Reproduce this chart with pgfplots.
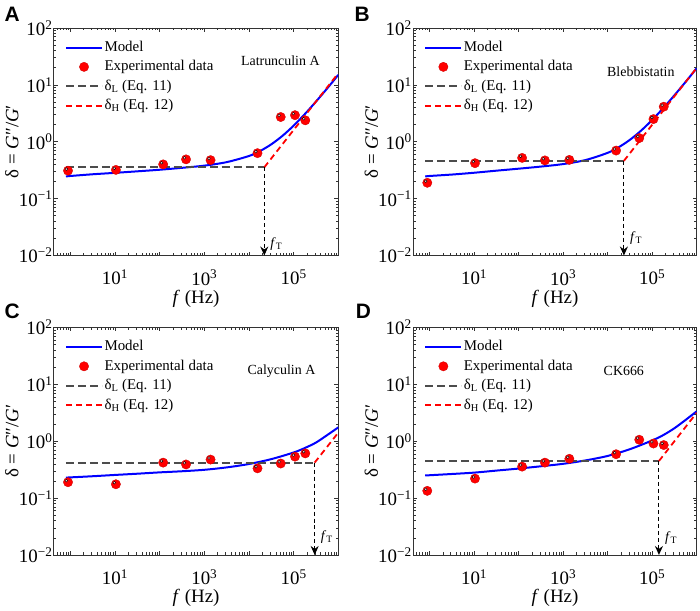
\documentclass[border=0pt]{standalone}
\usepackage{fontspec}
\setmainfont{Liberation Serif}
\newfontfamily\sansf{Liberation Sans}
\usepackage{pgfplots}
\pgfplotsset{compat=1.18}
\usetikzlibrary{arrows.meta}
\pgfplotsset{legend image code/.code={\draw[mark repeat=2,mark phase=2,#1] plot coordinates {(0bp,0bp) (18bp,0bp) (36bp,0bp)};}}

\newcommand{\mylegend}{%
  \addlegendimage{blue, line width=2bp}\addlegendentry{Model}
  \addlegendimage{only marks, mark=*, mark size=4.7bp, mark options={fill=red, draw=red!80!black, line width=0.3bp}}\addlegendentry{Experimental data}
  \addlegendimage{black!70, line width=1.8bp, dash pattern=on 8bp off 4bp}\addlegendentry{δ\textsubscript{L} (Eq. 11)}
  \addlegendimage{red, line width=1.8bp, dash pattern=on 6bp off 4bp}\addlegendentry{δ\textsubscript{H} (Eq. 12)}
}
\newcommand{\annot}[3]{\node[font=\fontsize{14}{17}\selectfont] at (axis description cs:#1,#2) {#3};}
\newcommand{\plabel}[3]{\node[font=\sansf\bfseries\fontsize{21}{24}\selectfont] at (axis description cs:#1,#2) {#3};}
\newcommand{\fT}[2]{\node[anchor=west, font=\fontsize{14}{17}\selectfont, inner sep=0pt, xshift=6bp] at (axis cs:#1,#2) {\textit{f}\textsubscript{T}};}

\begin{document}
\begin{tikzpicture}

% ---------------- A
\begin{axis}[width=285bp, at={(54bp,-256bp)}, anchor=south west, clip mode=individual,
    xmode=log, ymode=log, scale only axis, height=228bp,
    xmin=0.43, xmax=1e6, ymin=0.01, ymax=100,
    xtick={1,10,100,1000,10000,100000,1000000},
    xticklabels={{},{10\textsuperscript{1}},{},{10\textsuperscript{3}},{},{10\textsuperscript{5}},{}},
    ytick={0.01,0.1,1,10,100},
    yticklabels={{10\textsuperscript{−2}},{10\textsuperscript{−1}},{10\textsuperscript{0}},{10\textsuperscript{1}},{10\textsuperscript{2}}},
    minor xtick={0.5,0.6,0.7,0.8,0.9,2,3,4,5,6,7,8,9,20,30,40,50,60,70,80,90,200,300,400,500,600,700,800,900,2000,3000,4000,5000,6000,7000,8000,9000,20000,30000,40000,50000,60000,70000,80000,90000,200000,300000,400000,500000,600000,700000,800000,900000},
    minor ytick={0.02,0.03,0.04,0.05,0.06,0.07,0.08,0.09,0.2,0.3,0.4,0.5,0.6,0.7,0.8,0.9,2,3,4,5,6,7,8,9,20,30,40,50,60,70,80,90},
    tick align=inside, major tick length=4bp, minor tick length=2.5bp,
    axis line style={black!80, line width=0.8bp},
    tick style={black!80, line width=0.6bp},
    tick label style={font=\fontsize{19}{22}\selectfont},
    xticklabel style={yshift=-11bp},
    yticklabel style={xshift=2bp},
    label style={font=\fontsize{19}{22}\selectfont},
    xlabel={\textit{f} (Hz)},
    ylabel={δ = \textit{G}″/\textit{G}′},
    xlabel style={at={(axis description cs:0.5,-0.19)}, anchor=center},
    ylabel style={at={(axis description cs:-0.148,0.5)}, anchor=center},
    legend style={at={(axis description cs:0,1)}, anchor=north west, xshift=11bp, yshift=-11.5bp,
      draw=none, fill=none, font=\fontsize{15}{18}\selectfont, row sep=3.5bp,
      inner xsep=0pt, inner ysep=0pt, nodes={inner sep=1.5bp, text depth=0.25em}},
    legend cell align=left]
\mylegend
\addplot[blue, line width=2bp, smooth, forget plot] coordinates {(0.8,0.245) (1,0.25) (3.162,0.268) (10,0.284) (31.62,0.302) (100,0.322) (316.2,0.348) (1000,0.38) (3162,0.438) (10000,0.562) (17783,0.688) (31623,0.902) (56234,1.272) (100000,1.921) (177828,3.066) (316228,5.091) (562341,8.666) (1000000,15.03)};
\addplot[black!70, line width=1.8bp, dash pattern=on 8bp off 4bp, forget plot] coordinates {(0.8,0.355) (22000,0.355)};
\addplot[red, line width=1.8bp, dash pattern=on 6bp off 4bp, forget plot] coordinates {(22000,0.355) (1000000,16.1)};
\addplot[black, line width=1.1bp, dash pattern=on 4bp off 3bp, -{Stealth[length=9bp,width=8bp]}, forget plot] coordinates {(22000,0.355) (22000,0.01)};
\addplot[only marks, mark=*, mark size=4.7bp, mark options={fill=red, draw=red!80!black, line width=0.3bp}, forget plot] table {
0.89 0.31
10.5 0.32
120 0.40
390 0.49
1380 0.475
15500 0.63
51300 2.72
107000 2.93
182000 2.38
};
\addplot[only marks, mark=*, mark size=1.4bp, mark options={fill=white!80!red, draw=none, xshift=-1.6bp, yshift=1.6bp}, forget plot] table {
0.89 0.31
10.5 0.32
120 0.40
390 0.49
1380 0.475
15500 0.63
51300 2.72
107000 2.93
182000 2.38
};
\annot{0.796}{0.855}{Latrunculin A}
\fT{22000}{0.016}
\plabel{-0.147}{1.061}{A}
\end{axis}

% ---------------- B
\begin{axis}[width=284bp, at={(414bp,-256bp)}, anchor=south west, clip mode=individual,
    xmode=log, ymode=log, scale only axis, height=228bp,
    xmin=0.43, xmax=1e6, ymin=0.01, ymax=100,
    xtick={1,10,100,1000,10000,100000,1000000},
    xticklabels={{},{10\textsuperscript{1}},{},{10\textsuperscript{3}},{},{10\textsuperscript{5}},{}},
    ytick={0.01,0.1,1,10,100},
    yticklabels={{10\textsuperscript{−2}},{10\textsuperscript{−1}},{10\textsuperscript{0}},{10\textsuperscript{1}},{10\textsuperscript{2}}},
    minor xtick={0.5,0.6,0.7,0.8,0.9,2,3,4,5,6,7,8,9,20,30,40,50,60,70,80,90,200,300,400,500,600,700,800,900,2000,3000,4000,5000,6000,7000,8000,9000,20000,30000,40000,50000,60000,70000,80000,90000,200000,300000,400000,500000,600000,700000,800000,900000},
    minor ytick={0.02,0.03,0.04,0.05,0.06,0.07,0.08,0.09,0.2,0.3,0.4,0.5,0.6,0.7,0.8,0.9,2,3,4,5,6,7,8,9,20,30,40,50,60,70,80,90},
    tick align=inside, major tick length=4bp, minor tick length=2.5bp,
    axis line style={black!80, line width=0.8bp},
    tick style={black!80, line width=0.6bp},
    tick label style={font=\fontsize{19}{22}\selectfont},
    xticklabel style={yshift=-11bp},
    yticklabel style={xshift=2bp},
    label style={font=\fontsize{19}{22}\selectfont},
    xlabel={\textit{f} (Hz)},
    ylabel={δ = \textit{G}″/\textit{G}′},
    xlabel style={at={(axis description cs:0.5,-0.19)}, anchor=center},
    ylabel style={at={(axis description cs:-0.148,0.5)}, anchor=center},
    legend style={at={(axis description cs:0,1)}, anchor=north west, xshift=11bp, yshift=-11.5bp,
      draw=none, fill=none, font=\fontsize{15}{18}\selectfont, row sep=3.5bp,
      inner xsep=0pt, inner ysep=0pt, nodes={inner sep=1.5bp, text depth=0.25em}},
    legend cell align=left]
\mylegend
\addplot[blue, line width=2bp, smooth, forget plot] coordinates {(0.8,0.245) (1,0.25) (3.162,0.265) (10,0.285) (31.62,0.31) (100,0.336) (316.2,0.366) (1000,0.405) (3162,0.476) (10000,0.638) (17783,0.802) (31623,1.081) (56234,1.565) (100000,2.414) (177828,3.912) (316228,6.559) (562341,11.25) (1000000,19.59)};
\addplot[black!70, line width=1.8bp, dash pattern=on 8bp off 4bp, forget plot] coordinates {(0.8,0.461) (23200,0.461)};
\addplot[red, line width=1.8bp, dash pattern=on 6bp off 4bp, forget plot] coordinates {(23200,0.461) (1000000,19.9)};
\addplot[black, line width=1.1bp, dash pattern=on 4bp off 3bp, -{Stealth[length=9bp,width=8bp]}, forget plot] coordinates {(23200,0.461) (23200,0.01)};
\addplot[only marks, mark=*, mark size=4.7bp, mark options={fill=red, draw=red!80!black, line width=0.3bp}, forget plot] table {
0.89 0.19
10.5 0.42
120 0.52
390 0.47
1380 0.48
15500 0.70
51300 1.16
107000 2.5
182000 4.13
};
\addplot[only marks, mark=*, mark size=1.4bp, mark options={fill=white!80!red, draw=none, xshift=-1.6bp, yshift=1.6bp}, forget plot] table {
0.89 0.19
10.5 0.42
120 0.52
390 0.47
1380 0.48
15500 0.70
51300 1.16
107000 2.5
182000 4.13
};
\annot{0.803}{0.807}{Blebbistatin}
\fT{23200}{0.02}
\plabel{-0.18}{1.061}{B}
\end{axis}

% ---------------- C
\begin{axis}[width=285bp, at={(54bp,-556bp)}, anchor=south west, clip mode=individual,
    xmode=log, ymode=log, scale only axis, height=228bp,
    xmin=0.43, xmax=1e6, ymin=0.01, ymax=100,
    xtick={1,10,100,1000,10000,100000,1000000},
    xticklabels={{},{10\textsuperscript{1}},{},{10\textsuperscript{3}},{},{10\textsuperscript{5}},{}},
    ytick={0.01,0.1,1,10,100},
    yticklabels={{10\textsuperscript{−2}},{10\textsuperscript{−1}},{10\textsuperscript{0}},{10\textsuperscript{1}},{10\textsuperscript{2}}},
    minor xtick={0.5,0.6,0.7,0.8,0.9,2,3,4,5,6,7,8,9,20,30,40,50,60,70,80,90,200,300,400,500,600,700,800,900,2000,3000,4000,5000,6000,7000,8000,9000,20000,30000,40000,50000,60000,70000,80000,90000,200000,300000,400000,500000,600000,700000,800000,900000},
    minor ytick={0.02,0.03,0.04,0.05,0.06,0.07,0.08,0.09,0.2,0.3,0.4,0.5,0.6,0.7,0.8,0.9,2,3,4,5,6,7,8,9,20,30,40,50,60,70,80,90},
    tick align=inside, major tick length=4bp, minor tick length=2.5bp,
    axis line style={black!80, line width=0.8bp},
    tick style={black!80, line width=0.6bp},
    tick label style={font=\fontsize{19}{22}\selectfont},
    xticklabel style={yshift=-11bp},
    yticklabel style={xshift=2bp},
    label style={font=\fontsize{19}{22}\selectfont},
    xlabel={\textit{f} (Hz)},
    ylabel={δ = \textit{G}″/\textit{G}′},
    xlabel style={at={(axis description cs:0.5,-0.19)}, anchor=center},
    ylabel style={at={(axis description cs:-0.148,0.5)}, anchor=center},
    legend style={at={(axis description cs:0,1)}, anchor=north west, xshift=11bp, yshift=-11.5bp,
      draw=none, fill=none, font=\fontsize{15}{18}\selectfont, row sep=3.5bp,
      inner xsep=0pt, inner ysep=0pt, nodes={inner sep=1.5bp, text depth=0.25em}},
    legend cell align=left]
\mylegend
\addplot[blue, line width=2bp, smooth, forget plot] coordinates {(0.8,0.229) (1,0.231) (3.162,0.242) (10,0.255) (31.62,0.268) (100,0.283) (316.2,0.296) (1000,0.314) (3162,0.346) (10000,0.397) (31623,0.484) (100000,0.633) (177828,0.759) (316228,0.946) (562341,1.28) (1000000,1.75)};
\addplot[black!70, line width=1.8bp, dash pattern=on 8bp off 4bp, forget plot] coordinates {(0.8,0.42) (295000,0.42)};
\addplot[red, line width=1.8bp, dash pattern=on 6bp off 4bp, forget plot] coordinates {(295000,0.42) (1000000,1.42)};
\addplot[black, line width=1.1bp, dash pattern=on 4bp off 3bp, -{Stealth[length=9bp,width=8bp]}, forget plot] coordinates {(295000,0.42) (295000,0.01)};
\addplot[only marks, mark=*, mark size=4.7bp, mark options={fill=red, draw=red!80!black, line width=0.3bp}, forget plot] table {
0.89 0.19
10.5 0.175
120 0.42
390 0.39
1380 0.475
15500 0.333
51300 0.405
107000 0.535
182000 0.61
};
\addplot[only marks, mark=*, mark size=1.4bp, mark options={fill=white!80!red, draw=none, xshift=-1.6bp, yshift=1.6bp}, forget plot] table {
0.89 0.19
10.5 0.175
120 0.42
390 0.39
1380 0.475
15500 0.333
51300 0.405
107000 0.535
182000 0.61
};
\annot{0.80}{0.807}{Calyculin A}
\fT{295000}{0.021}
\plabel{-0.147}{1.07}{C}
\end{axis}

% ---------------- D
\begin{axis}[width=284bp, at={(414bp,-556bp)}, anchor=south west, clip mode=individual,
    xmode=log, ymode=log, scale only axis, height=228bp,
    xmin=0.43, xmax=1e6, ymin=0.01, ymax=100,
    xtick={1,10,100,1000,10000,100000,1000000},
    xticklabels={{},{10\textsuperscript{1}},{},{10\textsuperscript{3}},{},{10\textsuperscript{5}},{}},
    ytick={0.01,0.1,1,10,100},
    yticklabels={{10\textsuperscript{−2}},{10\textsuperscript{−1}},{10\textsuperscript{0}},{10\textsuperscript{1}},{10\textsuperscript{2}}},
    minor xtick={0.5,0.6,0.7,0.8,0.9,2,3,4,5,6,7,8,9,20,30,40,50,60,70,80,90,200,300,400,500,600,700,800,900,2000,3000,4000,5000,6000,7000,8000,9000,20000,30000,40000,50000,60000,70000,80000,90000,200000,300000,400000,500000,600000,700000,800000,900000},
    minor ytick={0.02,0.03,0.04,0.05,0.06,0.07,0.08,0.09,0.2,0.3,0.4,0.5,0.6,0.7,0.8,0.9,2,3,4,5,6,7,8,9,20,30,40,50,60,70,80,90},
    tick align=inside, major tick length=4bp, minor tick length=2.5bp,
    axis line style={black!80, line width=0.8bp},
    tick style={black!80, line width=0.6bp},
    tick label style={font=\fontsize{19}{22}\selectfont},
    xticklabel style={yshift=-11bp},
    yticklabel style={xshift=2bp},
    label style={font=\fontsize{19}{22}\selectfont},
    xlabel={\textit{f} (Hz)},
    ylabel={δ = \textit{G}″/\textit{G}′},
    xlabel style={at={(axis description cs:0.5,-0.19)}, anchor=center},
    ylabel style={at={(axis description cs:-0.148,0.5)}, anchor=center},
    legend style={at={(axis description cs:0,1)}, anchor=north west, xshift=11bp, yshift=-11.5bp,
      draw=none, fill=none, font=\fontsize{15}{18}\selectfont, row sep=3.5bp,
      inner xsep=0pt, inner ysep=0pt, nodes={inner sep=1.5bp, text depth=0.25em}},
    legend cell align=left]
\mylegend
\addplot[blue, line width=2bp, smooth, forget plot] coordinates {(0.8,0.25) (1,0.252) (3.162,0.265) (10,0.28) (31.62,0.304) (100,0.33) (316.2,0.362) (1000,0.40) (3162,0.459) (10000,0.55) (31623,0.723) (100000,1.03) (177828,1.28) (316228,1.69) (562341,2.36) (1000000,3.35)};
\addplot[black!70, line width=1.8bp, dash pattern=on 8bp off 4bp, forget plot] coordinates {(0.8,0.448) (142000,0.448)};
\addplot[red, line width=1.8bp, dash pattern=on 6bp off 4bp, forget plot] coordinates {(142000,0.448) (1000000,3.16)};
\addplot[black, line width=1.1bp, dash pattern=on 4bp off 3bp, -{Stealth[length=9bp,width=8bp]}, forget plot] coordinates {(142000,0.448) (142000,0.01)};
\addplot[only marks, mark=*, mark size=4.7bp, mark options={fill=red, draw=red!80!black, line width=0.3bp}, forget plot] table {
0.89 0.134
10.5 0.22
120 0.357
390 0.42
1380 0.49
15500 0.59
51300 1.06
107000 0.91
182000 0.855
};
\addplot[only marks, mark=*, mark size=1.4bp, mark options={fill=white!80!red, draw=none, xshift=-1.6bp, yshift=1.6bp}, forget plot] table {
0.89 0.134
10.5 0.22
120 0.357
390 0.42
1380 0.49
15500 0.59
51300 1.06
107000 0.91
182000 0.855
};
\annot{0.743}{0.807}{CK666}
\fT{142000}{0.02}
\plabel{-0.176}{1.07}{D}
\end{axis}
\path (0bp,0bp) rectangle (700bp,-609bp);
\end{tikzpicture}
\end{document}
